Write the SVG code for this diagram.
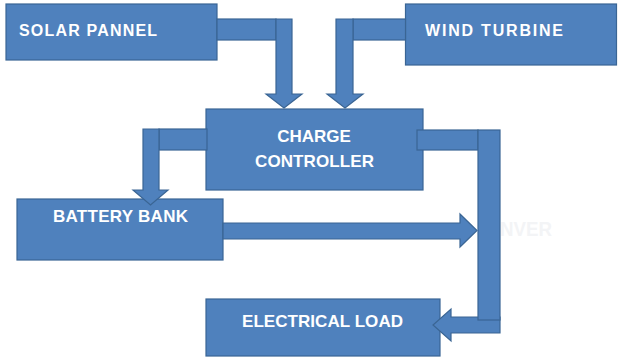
<svg xmlns="http://www.w3.org/2000/svg" width="619" height="359" viewBox="0 0 619 359">
<style>
.box{fill:#4F81BD;stroke:#3A6594;stroke-width:1.2}
.ar{fill:#4F81BD;stroke:#3A6594;stroke-width:1.2;stroke-linejoin:miter}
.t{fill:#FFFFFF;font-family:"Liberation Sans",Arial,sans-serif;font-weight:bold}
.ghost{fill:#F3F4F6;font-family:"Liberation Sans",Arial,sans-serif;font-weight:bold}
</style>
<rect width="619" height="359" fill="#FFFFFF"/>
<text class="ghost" x="500" y="236" font-size="21" textLength="52" lengthAdjust="spacingAndGlyphs">NVER</text>
<g id="solar-pannel">
<rect class="box" x="6" y="4" width="211" height="56"/>
<text class="t" x="19" y="36" font-size="16" textLength="138" lengthAdjust="spacing">SOLAR PANNEL</text>
</g>
<g id="wind-turbine">
<rect class="box" x="405.5" y="4" width="211" height="61"/>
<text class="t" x="425" y="36" font-size="16" textLength="138" lengthAdjust="spacing">WIND TURBINE</text>
</g>
<g id="charge-controller">
<rect class="box" x="206" y="109" width="217" height="81"/>
<text class="t" x="314" y="142" font-size="17" text-anchor="middle">CHARGE</text>
<text class="t" x="314.5" y="167" font-size="17" text-anchor="middle" textLength="119" lengthAdjust="spacing">CONTROLLER</text>
</g>
<g id="battery-bank">
<rect class="box" x="17" y="199" width="206" height="61"/>
<text class="t" x="53" y="222" font-size="17" textLength="135" lengthAdjust="spacing">BATTERY BANK</text>
</g>
<g id="electrical-load">
<rect class="box" x="206" y="299" width="234" height="57"/>
<text class="t" x="242" y="327" font-size="17" textLength="161" lengthAdjust="spacing">ELECTRICAL LOAD</text>
</g>
<g id="connectors">
<!-- solar to charge controller -->
<rect class="ar" x="217" y="19" width="59" height="21"/>
<path class="ar" d="M276,19 H292 V94 H302 L284,108 L266,94 H276 Z"/>
<!-- wind to charge controller -->
<rect class="ar" x="353" y="19" width="52.5" height="21"/>
<path class="ar" d="M336,19 H353 V94 H363 L345,108 L327,94 H336 Z"/>
<!-- charge controller to battery -->
<rect class="ar" x="159" y="129" width="48" height="21"/>
<path class="ar" d="M143,129 H159 V190 H168 L150.5,205 L133,190 H143 Z"/>
<!-- battery to bus -->
<path class="ar" d="M223,223 H460 V214 L477,230.5 L460,247 V239 H223 Z"/>
<!-- charge controller to load -->
<rect class="ar" x="417" y="130" width="61" height="20"/>
<path class="ar" d="M500,317 V333 H451 V341 L433,325 L451,309 V317 Z"/>
<rect class="ar" x="478" y="130" width="22" height="190"/>
</g>
</svg>
